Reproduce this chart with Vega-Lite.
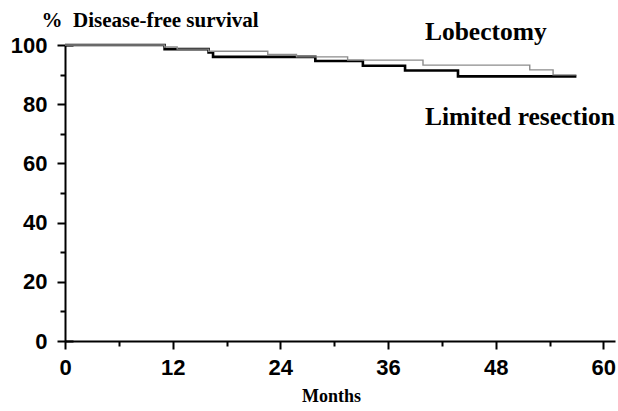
{
  "$schema": "https://vega.github.io/schema/vega-lite/v6.json",
  "width": 550,
  "height": 296,
  "autosize": "none",
  "padding": {"left": 65, "top": 45, "right": 3, "bottom": 70},
  "background": "white",
  "config": {
    "view": {"stroke": null},
    "axis": {
      "grid": false,
      "domainColor": "black",
      "domainWidth": 2,
      "tickColor": "black",
      "tickWidth": 2,
      "labelFont": "Liberation Sans",
      "labelFontWeight": "bold",
      "labelFontSize": 22,
      "labelColor": "black",
      "labelFlush": false,
      "titleFont": "Liberation Serif",
      "titleFontWeight": "bold",
      "titleColor": "black"
    }
  },
  "datasets": {
    "km": [
      {"group": "Limited resection", "month": 0, "surv": 100},
      {"group": "Limited resection", "month": 11.1, "surv": 98.6},
      {"group": "Limited resection", "month": 16.0, "surv": 97.5},
      {"group": "Limited resection", "month": 16.5, "surv": 96.0},
      {"group": "Limited resection", "month": 27.9, "surv": 94.6},
      {"group": "Limited resection", "month": 33.2, "surv": 93.0},
      {"group": "Limited resection", "month": 37.9, "surv": 91.4},
      {"group": "Limited resection", "month": 43.8, "surv": 89.4},
      {"group": "Limited resection", "month": 57.0, "surv": 89.4},
      {"group": "Lobectomy", "month": 0, "surv": 100},
      {"group": "Lobectomy", "month": 11.1, "surv": 99.3},
      {"group": "Lobectomy", "month": 12.5, "surv": 98.6},
      {"group": "Lobectomy", "month": 16.0, "surv": 97.9},
      {"group": "Lobectomy", "month": 22.6, "surv": 96.8},
      {"group": "Lobectomy", "month": 25.8, "surv": 96.0},
      {"group": "Lobectomy", "month": 31.5, "surv": 94.9},
      {"group": "Lobectomy", "month": 39.9, "surv": 93.2},
      {"group": "Lobectomy", "month": 51.8, "surv": 91.6},
      {"group": "Lobectomy", "month": 54.4, "surv": 89.9},
      {"group": "Lobectomy", "month": 57.0, "surv": 89.9}
    ]
  },
  "layer": [
    {
      "data": {"name": "km"},
      "mark": {"type": "line", "interpolate": "step-after"},
      "encoding": {
        "x": {
          "field": "month", "type": "quantitative",
          "scale": {"domain": [0, 61.3], "nice": false},
          "axis": {
            "orient": "bottom",
            "values": [0, 12, 24, 36, 48, 60],
            "tickSize": 8, "labelPadding": 8,
            "title": "Months", "titleFontSize": 18,
            "titleX": 266, "titleY": 60, "titleBaseline": "alphabetic"
          }
        },
        "y": {
          "field": "surv", "type": "quantitative",
          "scale": {"domain": [0, 100], "nice": false},
          "axis": {
            "orient": "left",
            "values": [0, 20, 40, 60, 80, 100],
            "tickSize": 8, "labelPadding": 10,
            "title": "%\u00a0 Disease-free survival", "titleFontSize": 21,
            "titleAngle": 0, "titleAlign": "left", "titleBaseline": "alphabetic",
            "titleX": -24, "titleY": -19
          }
        },
        "color": {
          "field": "group", "type": "nominal",
          "scale": {"domain": ["Limited resection", "Lobectomy"], "range": ["#000000", "#8c8c8c"]},
          "legend": null
        },
        "strokeWidth": {
          "field": "group", "type": "nominal",
          "scale": {"domain": ["Limited resection", "Lobectomy"], "range": [2.6, 1.4]},
          "legend": null
        }
      }
    },
    {
      "data": {"name": "km"},
      "mark": {"type": "point", "opacity": 0},
      "encoding": {
        "x": {
          "field": "month", "type": "quantitative",
          "axis": {"orient": "bottom", "values": [6, 18, 30, 42, 54], "tickSize": 5, "labels": false, "domain": false, "title": null}
        },
        "y": {
          "field": "surv", "type": "quantitative",
          "axis": {"orient": "left", "values": [10, 30, 50, 70, 90], "tickSize": 5, "labels": false, "domain": false, "title": null}
        }
      }
    },
    {
      "data": {"name": "km"},
      "mark": {"type": "point", "opacity": 0},
      "encoding": {
        "x": {"field": "month", "type": "quantitative", "axis": null},
        "y": {
          "field": "surv", "type": "quantitative",
          "axis": {"orient": "left", "values": [0, 100], "tickSize": -8, "labels": false, "domain": false, "title": null}
        }
      }
    },
    {
      "data": {"values": [{}]},
      "mark": {"type": "text", "font": "Liberation Serif", "fontWeight": "bold", "fontSize": 25.5, "align": "center", "baseline": "middle", "color": "black"},
      "encoding": {
        "x": {"datum": 46.9, "type": "quantitative", "axis": null},
        "y": {"datum": 104.4, "type": "quantitative", "axis": null},
        "text": {"value": "Lobectomy"}
      }
    },
    {
      "data": {"values": [{}]},
      "mark": {"type": "text", "font": "Liberation Serif", "fontWeight": "bold", "fontSize": 25.5, "align": "center", "baseline": "middle", "color": "black"},
      "encoding": {
        "x": {"datum": 50.7, "type": "quantitative", "axis": null},
        "y": {"datum": 75.7, "type": "quantitative", "axis": null},
        "text": {"value": "Limited resection"}
      }
    }
  ],
  "resolve": {"axis": {"x": "independent", "y": "independent"}}
}
